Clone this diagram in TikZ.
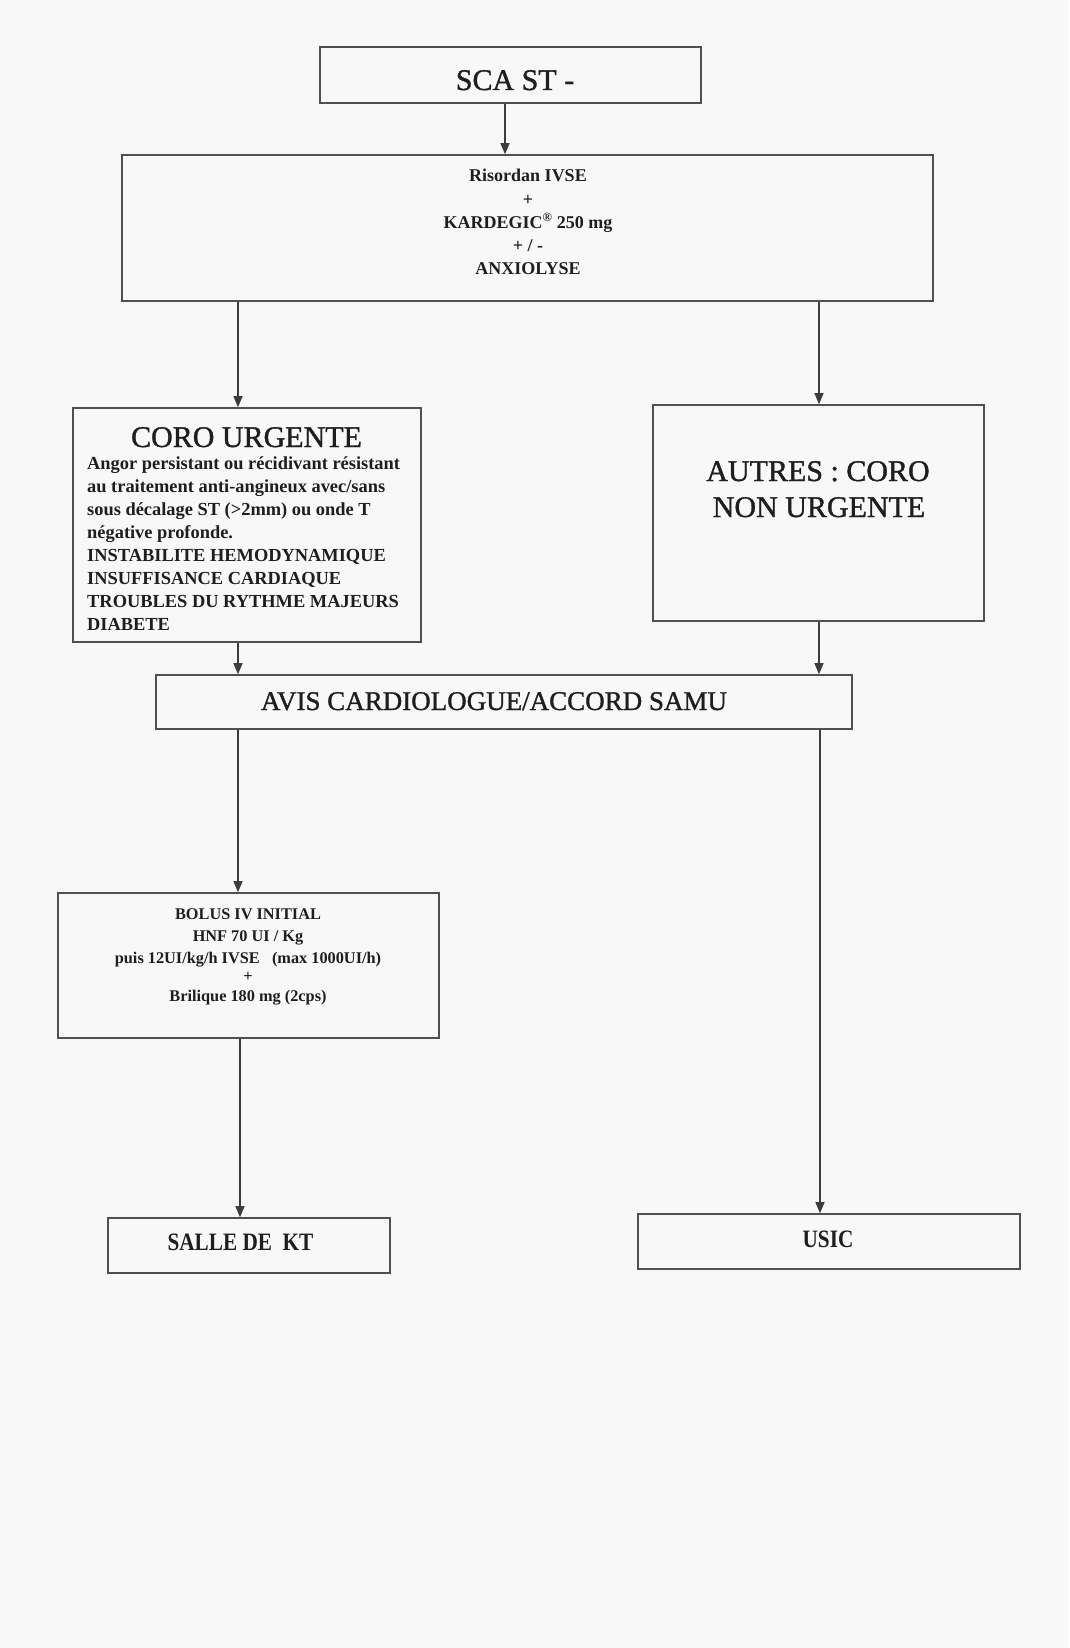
\documentclass[tikz,border=0pt]{standalone}
\usepackage{fontspec}
\setmainfont{Liberation Serif}
\newfontfamily\headfont[FakeBold=1.2]{Liberation Serif}
\usetikzlibrary{arrows.meta}
\definecolor{paper}{RGB}{248,248,248}
\definecolor{boxcol}{RGB}{80,80,80}
\definecolor{linecol}{RGB}{60,60,60}
\definecolor{txtcol}{RGB}{30,30,30}
\begin{document}
\begin{tikzpicture}[x=1pt,y=-1pt,
  box/.style={draw=boxcol, line width=1.6pt, inner sep=0pt},
  arr/.style={draw=linecol, line width=1.2pt, -{Triangle[length=11pt,width=9pt]}},
  txt/.style={text=txtcol, inner sep=0pt, anchor=base},
  ltxt/.style={text=txtcol, inner sep=0pt, anchor=base west},
  big/.style={font=\headfont\fontsize{30}{36}\selectfont},
  med/.style={font=\fontsize{18}{23}\selectfont\bfseries},
  body/.style={font=\fontsize{18.4}{23}\selectfont\bfseries},
  small/.style={font=\fontsize{16.3}{20}\selectfont\bfseries}]
\fill[paper] (0,0) rectangle (1069,1648);
\useasboundingbox (0,0) rectangle (1069,1648);

% boxes
\node[box, minimum width=381pt, minimum height=56pt] (sca) at (510.5,75) {};
\node[box, minimum width=811pt, minimum height=146pt] (ris) at (527.5,228) {};
\node[box, minimum width=348pt, minimum height=234pt] (coro) at (247,525) {};
\node[box, minimum width=331pt, minimum height=216pt] (autres) at (818.5,513) {};
\node[box, minimum width=696pt, minimum height=54pt] (avis) at (504,702) {};
\node[box, minimum width=381pt, minimum height=145pt] (bolus) at (248.5,965.5) {};
\node[box, minimum width=282pt, minimum height=55pt] (salle) at (249,1245.5) {};
\node[box, minimum width=382pt, minimum height=55pt] (usic) at (829,1241.5) {};

% texts
\node[txt, big] (tsca) at (515,90) {SCA ST -};

\node[txt, med] (r1) at (528,182) {Risordan IVSE};
\node[txt, med] (r2) at (528,205) {+};
\node[txt, med] (r3) at (528,228) {KARDEGIC\textsuperscript{\textregistered} 250 mg};
\node[txt, med] (r4) at (528,251) {+ / -};
\node[txt, med] (r5) at (528,274) {ANXIOLYSE};

\node[txt, big] (tcoro) at (246.5,447) {CORO URGENTE};
\foreach \t [count=\i] in {{Angor persistant ou récidivant résistant},
  {au traitement anti-angineux avec/sans},
  {sous décalage ST (>2mm) ou onde T},
  {négative profonde.},
  {INSTABILITE HEMODYNAMIQUE},
  {INSUFFISANCE CARDIAQUE},
  {TROUBLES DU RYTHME MAJEURS},
  {DIABETE}}
  \node[ltxt, body] (c\i) at (87,{469+23.1*(\i-1)}) {\t};

\node[txt, big] (a1) at (818,481) {AUTRES : CORO};
\node[txt, big] (a2) at (819,517) {NON URGENTE};

\node[txt, font=\headfont\fontsize{27}{32}\selectfont] (tavis) at (494,710) {AVIS CARDIOLOGUE/ACCORD SAMU};

\node[txt, small] (b1) at (248,919) {BOLUS IV INITIAL};
\node[txt, small] (b2) at (248,941) {HNF 70 UI / Kg};
\node[txt, small] (b3) at (248,963) {puis 12UI/kg/h IVSE\ \ \ (max 1000UI/h)};
\node[txt, small] (b4) at (248,981) {+};
\node[txt, small] (b5) at (248,1001) {Brilique 180 mg (2cps)};

\node[txt, font=\fontsize{25}{30}\selectfont\bfseries] (tsalle) at (240.5,1250) {\scalebox{0.85}[1]{SALLE DE\ \ KT}};
\node[txt, font=\fontsize{25}{30}\selectfont\bfseries] (tusic) at (828,1247) {\scalebox{0.85}[1]{USIC}};

% connector x positions
\coordinate (x1) at (505,0);
\coordinate (x2) at (238,0);
\coordinate (x3) at (819,0);
\coordinate (x4) at (240,0);
\coordinate (x5) at (820,0);

\draw[arr] (sca.south -| x1) -- (ris.north -| x1);
\draw[arr] (ris.south -| x2) -- (coro.north -| x2);
\draw[arr] (ris.south -| x3) -- (autres.north -| x3);
\draw[arr] (coro.south -| x2) -- (avis.north -| x2);
\draw[arr] (autres.south -| x3) -- (avis.north -| x3);
\draw[arr] (avis.south -| x2) -- (bolus.north -| x2);
\draw[arr] (bolus.south -| x4) -- (salle.north -| x4);
\draw[arr] (avis.south -| x5) -- (usic.north -| x5);
\end{tikzpicture}
\end{document}
